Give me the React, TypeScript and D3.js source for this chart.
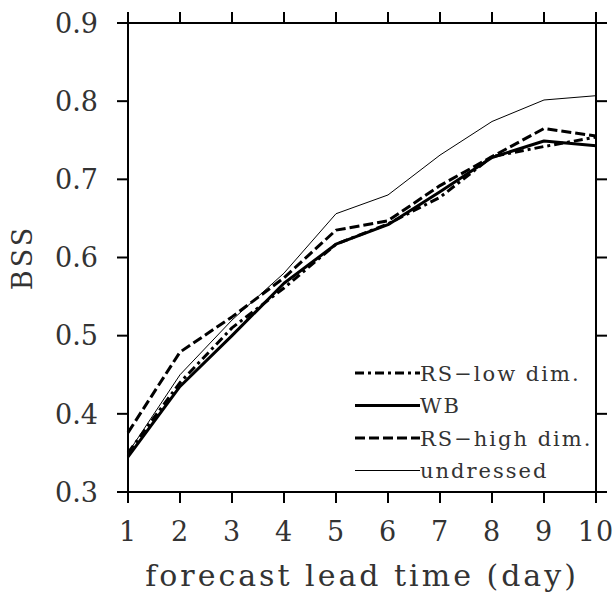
import React, { useEffect, useRef } from 'react';
import * as d3 from 'd3';

// forecast lead time (day)
const days = [1, 2, 3, 4, 5, 6, 7, 8, 9, 10];

// BSS per method
const rsLowDim = [0.35, 0.44, 0.51, 0.561, 0.617, 0.643, 0.677, 0.729, 0.742, 0.754];
const wb = [0.345, 0.435, 0.5, 0.567, 0.617, 0.642, 0.684, 0.728, 0.749, 0.743];
const rsHighDim = [0.376, 0.479, 0.524, 0.574, 0.635, 0.647, 0.692, 0.729, 0.765, 0.7555];
const undressed = [0.35, 0.45, 0.52, 0.58, 0.656, 0.68, 0.731, 0.774, 0.8015, 0.807];

const yTicks = [0.3, 0.4, 0.5, 0.6, 0.7, 0.8, 0.9];

const series = [
  { name: 'RS\u2212low dim.', values: rsLowDim, width: 3, dash: '9,4,3,4' },
  { name: 'WB', values: wb, width: 3, dash: null },
  { name: 'RS\u2212high dim.', values: rsHighDim, width: 3, dash: '10,4' },
  { name: 'undressed', values: undressed, width: 1, dash: null },
];

function App() {
  const svgRef = useRef<SVGSVGElement>(null);

  useEffect(() => {
    const width = 613;
    const height = 593;
    const margin = { top: 23, right: 17, bottom: 101, left: 128 };
    const font = '"DejaVu Serif", serif';
    const textColor = '#333';

    const svg = d3.select(svgRef.current)
      .attr('width', width)
      .attr('height', height);
    svg.selectAll('*').remove();

    const x = d3.scaleLinear().domain([1, 10]).range([margin.left, width - margin.right]);
    const y = d3.scaleLinear().domain([0.3, 0.9]).range([height - margin.bottom, margin.top]);

    const frame = svg.append('g');
    frame.append('rect')
      .attr('x', x(1))
      .attr('y', y(0.9))
      .attr('width', x(10) - x(1))
      .attr('height', y(0.3) - y(0.9))
      .attr('fill', 'none')
      .attr('stroke', '#000')
      .attr('stroke-width', 2);

    const tickLen = 11;
    // ticks on all four sides, pointing outward
    days.forEach(d => {
      frame.append('line')
        .attr('x1', x(d)).attr('x2', x(d))
        .attr('y1', y(0.3)).attr('y2', y(0.3) + tickLen)
        .attr('stroke', '#000').attr('stroke-width', 2);
      frame.append('line')
        .attr('x1', x(d)).attr('x2', x(d))
        .attr('y1', y(0.9)).attr('y2', y(0.9) - tickLen)
        .attr('stroke', '#000').attr('stroke-width', 2);
    });
    yTicks.forEach(t => {
      frame.append('line')
        .attr('x1', x(1)).attr('x2', x(1) - tickLen)
        .attr('y1', y(t)).attr('y2', y(t))
        .attr('stroke', '#000').attr('stroke-width', 2);
      frame.append('line')
        .attr('x1', x(10)).attr('x2', x(10) + tickLen)
        .attr('y1', y(t)).attr('y2', y(t))
        .attr('stroke', '#000').attr('stroke-width', 2);
    });

    // tick labels
    svg.append('g').selectAll('text')
      .data(days)
      .enter()
      .append('text')
      .attr('x', d => x(d))
      .attr('y', y(0.3) + 49)
      .attr('text-anchor', 'middle')
      .style('font-family', font)
      .style('font-size', '27px')
      .style('letter-spacing', '1px')
      .attr('fill', textColor)
      .text(d => d);

    svg.append('g').selectAll('text')
      .data(yTicks)
      .enter()
      .append('text')
      .attr('x', x(1) - 30)
      .attr('y', t => y(t))
      .attr('dy', '0.36em')
      .attr('text-anchor', 'end')
      .style('font-family', font)
      .style('font-size', '27px')
      .attr('fill', textColor)
      .text(t => d3.format('.1f')(t));

    // axis titles
    svg.append('text')
      .attr('x', (x(1) + x(10)) / 2)
      .attr('y', 586)
      .attr('text-anchor', 'middle')
      .style('font-family', font)
      .style('font-size', '30px')
      .style('letter-spacing', '3px')
      .attr('fill', textColor)
      .text('forecast lead time (day)');

    svg.append('text')
      .attr('transform', `translate(32,${y(0.6)}) rotate(-90)`)
      .attr('text-anchor', 'middle')
      .style('font-family', font)
      .style('font-size', '27px')
      .style('letter-spacing', '3px')
      .attr('fill', textColor)
      .text('BSS');

    // lines
    const line = d3.line<number>()
      .x((_, i) => x(days[i]))
      .y(v => y(v));

    series.forEach(s => {
      svg.append('path')
        .datum(s.values)
        .attr('d', line)
        .attr('fill', 'none')
        .attr('stroke', '#000')
        .attr('stroke-width', s.width)
        .attr('stroke-dasharray', s.dash)
        .attr('stroke-linejoin', 'round');
    });

    // legend
    const legend = svg.append('g');
    series.forEach((s, i) => {
      const ly = 373 + i * 32.5;
      legend.append('line')
        .attr('x1', 355).attr('x2', 420)
        .attr('y1', ly).attr('y2', ly)
        .attr('stroke', '#000')
        .attr('stroke-width', s.width)
        .attr('stroke-dasharray', s.dash);
      legend.append('text')
        .attr('x', 420)
        .attr('y', ly)
        .attr('dy', '0.36em')
        .style('font-family', font)
        .style('font-size', '21px')
        .style('letter-spacing', '2px')
        .attr('fill', textColor)
        .text(s.name);
    });
  }, []);

  return <svg ref={svgRef} style={{ position: 'absolute', left: 0, top: 0 }}></svg>;
}

export default App;
